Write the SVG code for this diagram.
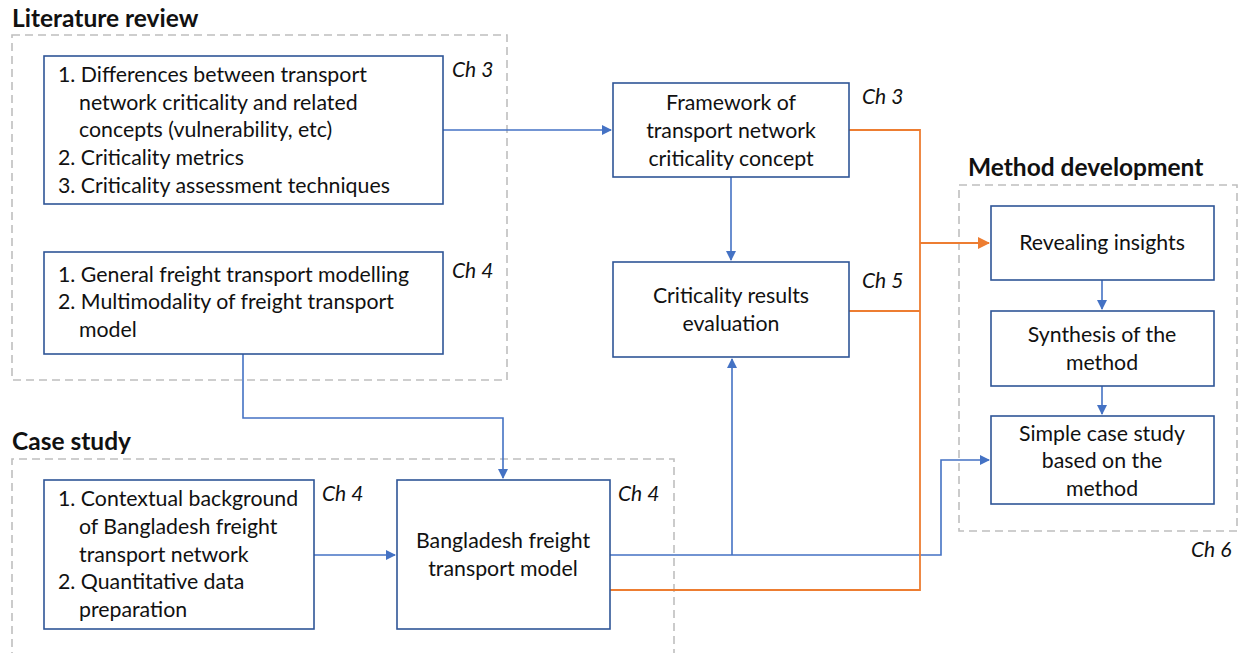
<svg xmlns="http://www.w3.org/2000/svg" width="1242" height="653" viewBox="0 0 1242 653">
<defs>
<style>
text{font-family:Lato,"Open Sans","Liberation Sans",sans-serif;font-size:21.3px;fill:#111}
.t{font-weight:bold;font-size:24.5px}
.ch{font-style:italic;font-size:21px}
.c{text-anchor:middle}
.box{fill:#fff;stroke:#2F5597;stroke-width:1.6}
.grp{fill:none;stroke:#BFBFBF;stroke-width:1.6;stroke-dasharray:8 5}
.b{fill:none;stroke:#4472C4;stroke-width:1.6}
.o{fill:none;stroke:#ED7D31;stroke-width:1.8}
</style>
<marker id="ab" markerWidth="10" markerHeight="10" refX="9" refY="5" orient="auto" markerUnits="userSpaceOnUse"><path d="M0,0 L10,5 L0,10 z" fill="#4472C4"/></marker>
<marker id="ao" markerWidth="12" markerHeight="12" refX="11" refY="6" orient="auto" markerUnits="userSpaceOnUse"><path d="M0,0 L12,6 L0,12 z" fill="#ED7D31"/></marker>
</defs>

<g id="groups">
<text class="t" x="12" y="27">Literature review</text>
<rect class="grp" x="12" y="35" width="495" height="345"/>
<text class="t" x="968" y="176">Method development</text>
<rect class="grp" x="959" y="185" width="278" height="346"/>
<text class="ch" x="1191" y="557">Ch 6</text>
<text class="t" x="12" y="450">Case study</text>
<path class="grp" d="M12,660 L12,459 L674,459 L674,660"/>
</g>

<g id="connectors">
<path class="b" d="M443,130 H611" marker-end="url(#ab)"/>
<path class="b" d="M731,177 V260" marker-end="url(#ab)"/>
<path class="b" d="M243,354 V418 H503 V478" marker-end="url(#ab)"/>
<path class="b" d="M314,555 H395" marker-end="url(#ab)"/>
<path class="b" d="M610,555 H941 V460 H989" marker-end="url(#ab)"/>
<path class="b" d="M732,555 V359" marker-end="url(#ab)"/>
<path class="b" d="M1102,280 V309" marker-end="url(#ab)"/>
<path class="b" d="M1102,386 V414" marker-end="url(#ab)"/>
<path class="o" d="M849,130 H920 V590 H610"/>
<path class="o" d="M849,311 H920"/>
<path class="o" d="M920,243 H989" marker-end="url(#ao)"/>
</g>

<g id="lit1">
<rect class="box" x="44" y="56" width="399" height="148"/>
<text x="58" y="82">1. Differences between transport</text>
<text x="79" y="110">network criticality and related</text>
<text x="79" y="137">concepts (vulnerability, etc)</text>
<text x="58" y="165">2. Criticality metrics</text>
<text x="58" y="193">3. Criticality assessment techniques</text>
<text class="ch" x="452" y="77">Ch 3</text>
</g>

<g id="lit2">
<rect class="box" x="44" y="252" width="399" height="102"/>
<text x="58" y="282">1. General freight transport modelling</text>
<text x="58" y="309">2. Multimodality of freight transport</text>
<text x="79" y="337">model</text>
<text class="ch" x="452" y="278">Ch 4</text>
</g>

<g id="framework">
<rect class="box" x="613" y="83" width="236" height="94"/>
<text class="c" x="731" y="110">Framework of</text>
<text class="c" x="731" y="138">transport network</text>
<text class="c" x="731" y="166">criticality concept</text>
<text class="ch" x="862" y="104">Ch 3</text>
</g>

<g id="results">
<rect class="box" x="613" y="262" width="236" height="95"/>
<text class="c" x="731" y="303">Criticality results</text>
<text class="c" x="731" y="331">evaluation</text>
<text class="ch" x="862" y="288">Ch 5</text>
</g>

<g id="insights">
<rect class="box" x="991" y="206" width="223" height="74"/>
<text class="c" x="1102" y="250">Revealing insights</text>
</g>

<g id="synthesis">
<rect class="box" x="991" y="311" width="223" height="75"/>
<text class="c" x="1102" y="342">Synthesis of the</text>
<text class="c" x="1102" y="370">method</text>
</g>

<g id="simplecase">
<rect class="box" x="991" y="416" width="223" height="88"/>
<text class="c" x="1102" y="441">Simple case study</text>
<text class="c" x="1102" y="468">based on the</text>
<text class="c" x="1102" y="496">method</text>
</g>

<g id="context">
<rect class="box" x="44" y="480" width="270" height="149"/>
<text x="58" y="506">1. Contextual background</text>
<text x="79" y="534">of Bangladesh freight</text>
<text x="79" y="562">transport network</text>
<text x="58" y="589">2. Quantitative data</text>
<text x="79" y="617">preparation</text>
<text class="ch" x="322" y="501">Ch 4</text>
</g>

<g id="bdmodel">
<rect class="box" x="397" y="480" width="213" height="149"/>
<text class="c" x="503" y="548">Bangladesh freight</text>
<text class="c" x="503" y="576">transport model</text>
<text class="ch" x="618" y="501">Ch 4</text>
</g>
</svg>
